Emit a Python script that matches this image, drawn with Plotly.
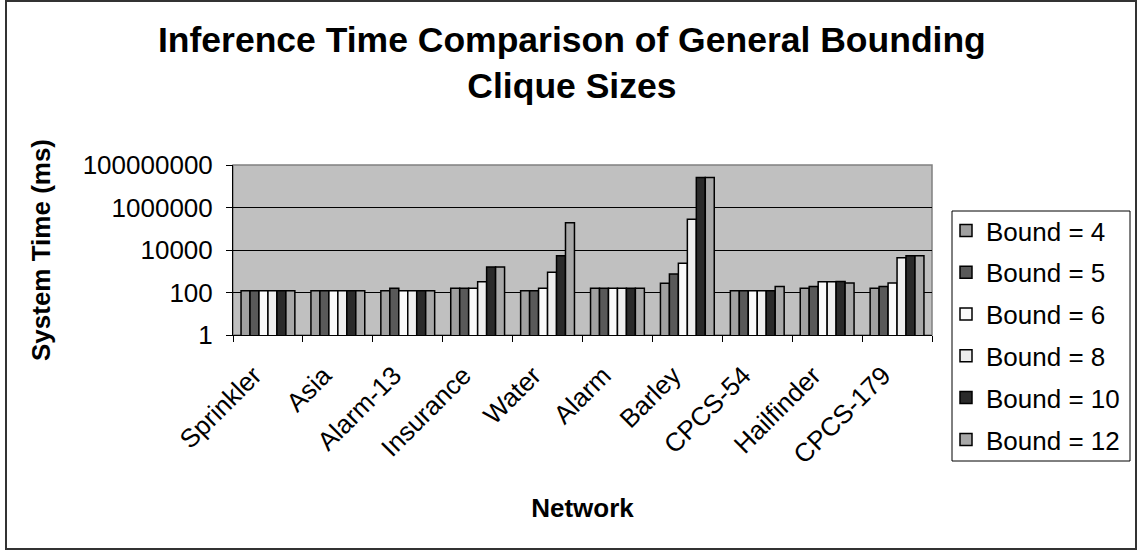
import plotly.graph_objects as go

# Networks on the x axis
networks = ["Sprinkler", "Asia", "Alarm-13", "Insurance", "Water", "Alarm",
            "Barley", "CPCS-54", "Hailfinder", "CPCS-179"]

# System time (ms) per network for each clique-size bound
bound4 = [120, 120, 120, 160, 120, 160, 270, 120, 160, 160]
bound5 = [120, 120, 160, 160, 120, 160, 740, 120, 190, 190]
bound6 = [120, 120, 120, 160, 160, 160, 2350, 120, 320, 280]
bound8 = [120, 120, 120, 320, 900, 160, 280000, 120, 320, 4300]
bound10 = [120, 120, 120, 1600, 5400, 160, 26000000, 120, 330, 5400]
bound12 = [120, 120, 120, 1600, 190000, 160, 26000000, 190, 280, 5400]

series_names = ["Bound = 4", "Bound = 5", "Bound = 6", "Bound = 8", "Bound = 10", "Bound = 12"]
series_values = [bound4, bound5, bound6, bound8, bound10, bound12]
series_colors = ["#A0A0A0", "#595959", "#FAFAFA", "#EEEEEE", "#2A2A2A", "#A8A8A8"]

y_tickvals = [1, 100, 10000, 1000000, 100000000]
y_ticktext = ["1", "100", "10000", "1000000", "100000000"]

FONT = "Liberation Sans, Arial, sans-serif"

W, H = 1138, 550
L, R, T, B = 233, 206, 165, 215
pw, ph = W - L - R, H - T - B

fig = go.Figure()
for i, (name, vals, col) in enumerate(zip(series_names, series_values, series_colors)):
    fig.add_trace(go.Bar(
        x=networks, y=vals, name=name, legendgroup=f"g{i}",
        marker=dict(color=col, line=dict(color="black", width=1.5)),
    ))

def px_x(x):
    return (x - L) / pw

def px_y(y):
    return (H - B - y) / ph

fig.update_layout(
    width=W, height=H,
    margin=dict(l=L, r=R, t=T, b=B, pad=0, autoexpand=False),
    paper_bgcolor="white",
    plot_bgcolor="#C0C0C0",
    font=dict(family=FONT, color="black", size=26),
    barmode="group", bargap=0.23, bargroupgap=0,
    xaxis=dict(
        title=dict(text="<b>Network</b>", font=dict(size=26), standoff=30),
        tickangle=-45, tickson="boundaries", ticks="outside", ticklen=6,
        tickcolor="black", showline=True, linecolor="black", linewidth=1,
        tickfont=dict(size=26), showgrid=False,
        ticklabelstandoff=14, ticklabelshift=-14,
    ),
    yaxis=dict(
        title=dict(text="<b>System Time (ms)</b>", font=dict(size=26), standoff=24),
        type="log", range=[0, 8], tickvals=y_tickvals, ticktext=y_ticktext,
        ticks="outside", ticklen=6, tickcolor="black",
        showline=True, linecolor="black", linewidth=1,
        showgrid=True, gridcolor="black", gridwidth=1,
        tickfont=dict(size=26), zeroline=False, ticklabelstandoff=8,
    ),
    # legend entries sit inside the framed box drawn below as a shape
    legend=dict(
        x=px_x(946), y=px_y(207), xanchor="left", yanchor="top",
        bgcolor="rgba(0,0,0,0)", borderwidth=0,
        font=dict(size=26), tracegroupgap=5, maxheight=320,
    ),
    annotations=[
        dict(text="<b>Inference Time Comparison of General Bounding<br>Clique Sizes</b>",
             xref="paper", yref="paper", x=px_x(572), y=px_y(18),
             xanchor="center", yanchor="top", showarrow=False,
             font=dict(size=35.5, family=FONT, color="black")),
    ],
    shapes=[
        dict(type="rect", xref="paper", yref="paper", x0=0, x1=1, y0=0, y1=1,
             line=dict(color="#808080", width=1.5), layer="below"),
        dict(type="rect", xref="paper", yref="paper",
             x0=px_x(952), x1=px_x(1130), y0=px_y(461), y1=px_y(211),
             fillcolor="white", line=dict(color="black", width=1)),
        dict(type="rect", xref="paper", yref="paper",
             x0=px_x(6), x1=px_x(1136), y0=px_y(549), y1=px_y(1),
             line=dict(color="#333333", width=2)),
    ],
)

fig.write_html("out.html")
